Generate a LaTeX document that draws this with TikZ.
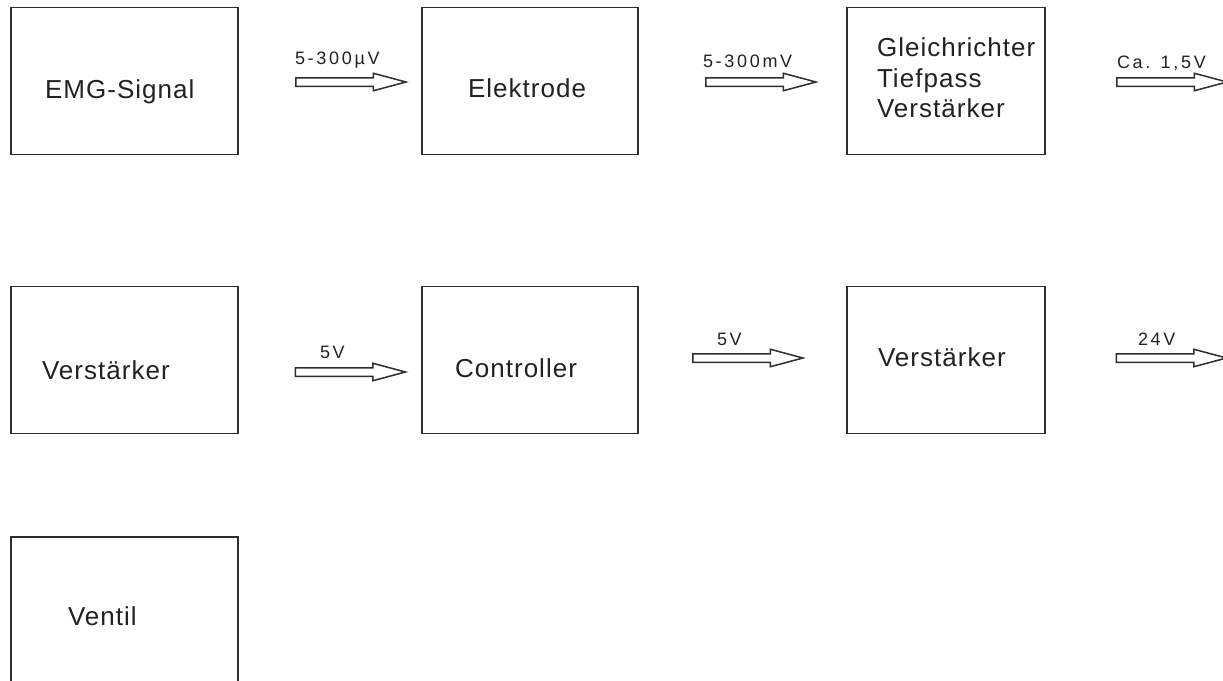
\documentclass[tikz,border=0pt]{standalone}
\usepackage{fontspec}
\setmainfont{Liberation Sans}
\newfontfamily\blockfont[LetterSpace=4]{Liberation Sans}
\newfontfamily\labelfont[LetterSpace=15]{Liberation Sans}
\usetikzlibrary{shapes.arrows}
\definecolor{ink}{HTML}{222222}
\definecolor{frame}{HTML}{2E2E2E}

\begin{document}
\begin{tikzpicture}[x=1pt,y=-1pt,
  block/.style={draw=frame, line width=1.8pt, inner sep=0pt, outer sep=0pt,
    minimum height=147pt},
  wideblock/.style={block, minimum width=227pt},
  midblock/.style={block, minimum width=216pt},
  rightblock/.style={block, minimum width=198pt},
  txt/.style={inner sep=0pt, outer sep=0pt, text=ink,
    font=\blockfont\fontsize{26}{30.5}\selectfont},
  volt/.style={inner sep=0pt, outer sep=0pt, text=ink, anchor=base west,
    font=\labelfont\fontsize{18}{20}\selectfont},
  flow/.style={single arrow, draw=frame, line width=1.5pt, fill=white,
    minimum height=110pt, inner xsep=0pt, inner ysep=3.5pt,
    single arrow head extend=4.5pt, single arrow tip angle=30,
    outer sep=0pt}]

\useasboundingbox (0,0) rectangle (1223,680);
\clip (0,0) rectangle (1223,680);
\fill[white] (0,0) rectangle (1223,680);

% first row
\node[wideblock] (emg) at (124.5,81) {};
\node[midblock] (elek) at (530,81) {};
\node[rightblock] (gleich) at (946,81) {};
% second row
\node[wideblock] (verst1) at (124.5,360) {};
\node[midblock] (ctrl) at (530,360) {};
\node[rightblock] (verst2) at (946,360) {};
% third row, running off the lower edge
\node[wideblock] (ventil) at (124.5,610.5) {};

% block captions
\node[txt, anchor=base west] (emgtext) at (45,98) {EMG-Signal};
\node[txt, anchor=base west] (elektext) at (468,97) {Elektrode};
\node[txt, anchor=north west, align=left] (gleichtext) at (877,38)
  {Gleichrichter\\Tiefpass\\Verstärker};
\node[txt, anchor=base west] (verst1text) at (42,379) {Verstärker};
\node[txt, anchor=base west] (ctrltext) at (455,377) {Controller};
\node[txt, anchor=base west] (verst2text) at (878,366) {Verstärker};
\node[txt, anchor=base west] (ventiltext) at (68,625) {Ventil};

% signal arrows between the blocks
\node[flow] (f1) at (343,82) {};
\node[flow] (f2) at (753,82) {};
\node[flow] (f3) at (1164,82) {};
\node[flow] (f4) at (342.5,372) {};
\node[flow] (f5) at (740,358) {};
\node[flow] (f6) at (1163.5,358) {};

% signal levels
\node[volt] (l1) at (295,64) {5-300µV};
\node[volt] (l2) at (703,67) {5-300mV};
\node[volt] (l3) at (1117,68) {Ca. 1,5V};
\node[volt] (l4) at (320,358) {5V};
\node[volt] (l5) at (717,345) {5V};
\node[volt] (l6) at (1138,345) {24V};
\end{tikzpicture}
\end{document}
